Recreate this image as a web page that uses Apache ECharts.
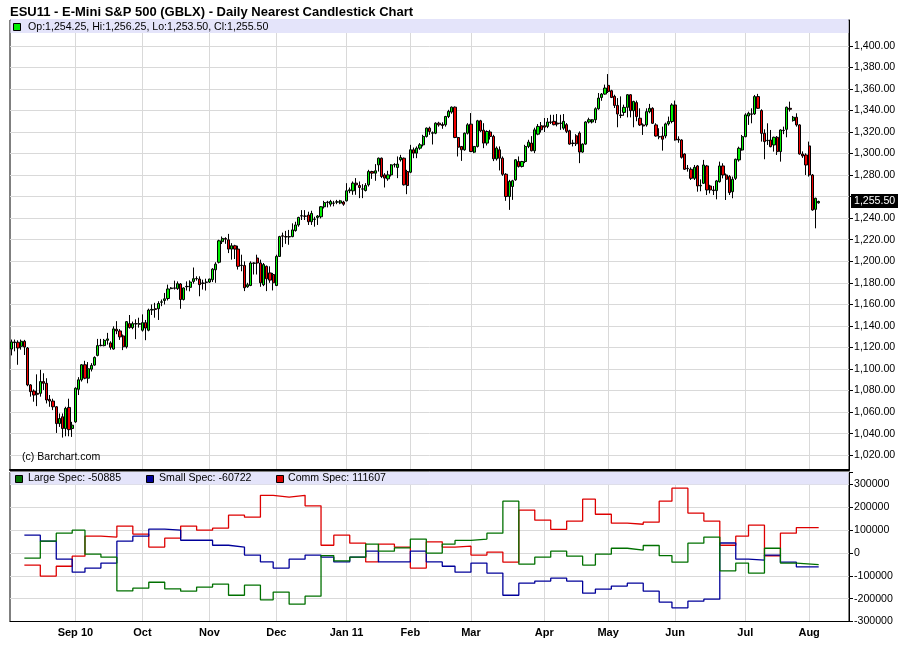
<!DOCTYPE html>
<html><head><meta charset="utf-8">
<script src="https://cdn.jsdelivr.net/npm/echarts@6/dist/echarts.min.js"></script>
<style>html,body{margin:0;padding:0;background:#fff}#c{width:900px;height:662px}</style>
</head><body><div id="c"></div>
<script>
// ---------- data ----------
const firstTradingDate = '2010-08-04';
const holidays = ['2010-09-06','2010-11-25','2010-12-24','2011-01-17','2011-02-21','2011-04-22','2011-05-30','2011-07-04'];
const slotCount = 263; // trading-day slots on the axis (254 candles + empty room)
const monthTickDates = ['2010-09-01','2010-10-01','2010-11-01','2010-12-01','2011-01-03','2011-02-01','2011-03-01','2011-04-01','2011-05-02','2011-06-01','2011-07-01','2011-08-01'];
const monthTickLabels = ['Sep 10','Oct','Nov','Dec','Jan 11','Feb','Mar','Apr','May','Jun','Jul','Aug'];
const priceTicks = [1020,1040,1060,1080,1100,1120,1140,1160,1180,1200,1220,1240,1260,1280,1300,1320,1340,1360,1380,1400];

// daily candles: [open, close, low, high]
const candles = [
// Aug 2010
[1118.5,1125.1,1112.6,1127.3],[1125.1,1124.5,1116.4,1127.3],[1124.8,1119.5,1103.9,1126.6],[1121.0,1125.7,1117.9,1127.3],[1125.7,1120.4,1113.0,1127.0],
[1119.5,1085.2,1084.0,1120.4],[1085.2,1078.9,1074.3,1086.0],[1079.5,1075.8,1069.6,1081.0],[1077.4,1076.5,1065.5,1095.0],[1077.4,1088.3,1074.3,1099.2],
[1088.3,1086.7,1080.5,1096.0],[1086.7,1071.2,1068.0,1091.4],[1071.8,1070.2,1064.9,1075.8],[1070.2,1064.9,1061.8,1072.4],[1064.9,1049.3,1040.6,1065.5],
[1049.3,1054.0,1046.2,1058.7],[1055.6,1044.7,1036.3,1058.7],[1044.7,1063.4,1037.5,1064.9],[1064.3,1043.7,1037.5,1072.4],[1044.7,1047.8,1036.9,1050.9],
// Sep 2010
[1050.9,1082.1,1050.0,1083.0],[1081.1,1089.9,1075.8,1092.4],[1089.9,1103.9,1088.3,1104.5],[1103.9,1091.4,1090.5,1107.6],[1091.4,1100.2,1086.7,1106.4],
[1099.8,1103.3,1097.7,1105.4],[1103.6,1110.7,1103.0,1111.7],[1112.6,1121.7,1111.7,1127.9],[1121.7,1122.0,1121.0,1127.9],[1121.7,1126.6,1121.0,1127.9],
[1126.6,1127.9,1122.6,1133.5],[1124.2,1120.1,1117.9,1125.7],[1118.5,1137.2,1117.9,1139.6],[1136.9,1135.3,1132.3,1144.4],[1135.3,1129.8,1127.0,1137.0],
[1130.7,1120.6,1117.5,1132.0],[1120.6,1143.9,1119.0,1144.5],[1142.1,1138.4,1137.5,1150.1],[1138.4,1142.1,1136.9,1144.0],[1142.1,1141.8,1127.7,1146.1],
[1141.5,1142.1,1138.4,1147.6],
// Oct 2010
[1136.0,1143.0,1134.7,1150.7],[1143.0,1138.0,1126.7,1145.5],[1136.0,1154.7,1135.0,1156.0],[1154.7,1155.3,1150.1,1159.9],[1155.9,1155.3,1147.6,1161.4],
[1155.9,1160.8,1145.5,1162.9],[1162.0,1162.3,1158.3,1164.5],[1163.6,1165.1,1159.9,1170.6],[1165.4,1174.3,1163.6,1178.3],[1174.6,1175.2,1174.0,1176.0],
[1175.2,1175.0,1173.7,1182.0],[1174.6,1179.2,1173.4,1181.3],[1178.9,1164.5,1155.9,1179.8],[1164.5,1175.2,1163.6,1175.8],[1176.7,1176.4,1172.8,1181.3],
[1175.8,1180.7,1172.1,1182.3],[1181.3,1183.8,1179.2,1194.2],[1184.0,1183.8,1182.0,1186.0],[1183.5,1178.3,1167.5,1186.0],[1179.8,1179.5,1173.7,1182.9],
[1180.4,1180.7,1172.8,1183.8],
// Nov 2010
[1180.7,1183.5,1179.8,1183.8],[1182.9,1192.7,1180.7,1193.6],[1192.1,1197.3,1180.0,1199.1],[1199.1,1219.0,1198.0,1220.0],[1218.2,1221.2,1216.0,1223.0],
[1221.1,1220.5,1216.2,1222.3],[1219.9,1211.3,1207.6,1225.4],[1211.3,1214.4,1201.5,1216.8],[1214.4,1211.3,1202.1,1215.3],[1211.3,1195.3,1192.3,1214.4],
[1196.0,1196.3,1190.7,1206.1],[1196.0,1175.4,1172.3,1199.9],[1176.3,1178.2,1175.4,1180.0],[1177.5,1198.4,1176.9,1199.9],[1198.4,1198.1,1187.7,1199.0],
[1203.0,1198.4,1187.7,1206.1],[1198.4,1180.0,1176.3,1201.5],[1178.2,1196.9,1176.9,1198.4],[1195.3,1183.7,1172.3,1196.0],[1189.2,1182.5,1180.0,1195.3],
[1187.7,1180.0,1172.9,1189.2],
// Dec 2010
[1177.5,1204.5,1176.9,1206.1],[1204.5,1222.9,1204.0,1223.6],[1223.6,1223.3,1213.1,1226.6],[1222.9,1222.6,1216.2,1228.2],[1222.6,1222.9,1215.3,1229.1],
[1222.9,1229.1,1222.3,1235.2],[1228.5,1233.7,1227.5,1236.7],[1233.7,1240.7,1232.1,1241.3],[1242.0,1242.3,1238.3,1247.5],[1242.0,1241.8,1238.3,1247.5],
[1242.9,1236.7,1233.7,1246.0],[1236.7,1244.4,1233.7,1246.9],[1238.9,1239.2,1232.1,1241.3],[1240.7,1242.0,1233.7,1242.9],[1241.3,1250.6,1239.8,1251.2],
[1250.6,1254.5,1249.0,1256.1],[1254.9,1254.6,1250.0,1256.1],[1253.0,1255.5,1250.8,1257.0],[1254.0,1253.9,1251.0,1256.1],[1254.9,1255.2,1253.0,1257.0],
[1254.0,1256.1,1253.0,1257.0],[1255.0,1253.0,1251.5,1256.1],
// Jan 2011
[1256.1,1265.4,1255.5,1272.5],[1265.4,1266.3,1263.2,1268.5],[1265.4,1272.5,1261.7,1274.1],[1272.5,1271.0,1261.7,1277.2],[1270.3,1268.5,1258.6,1274.1],
[1267.2,1267.0,1258.6,1271.6],[1265.7,1270.3,1264.8,1272.5],[1271.0,1283.3,1269.4,1284.9],[1283.3,1281.8,1276.5,1284.0],[1281.8,1284.0,1274.7,1290.2],
[1289.5,1295.7,1283.3,1296.3],[1295.7,1278.7,1277.2,1296.3],[1280.2,1277.2,1268.5,1281.8],[1276.5,1280.2,1274.7,1284.0],[1280.2,1289.5,1278.7,1290.2],
[1289.5,1289.8,1287.1,1291.1],[1287.1,1290.2,1277.2,1297.3],[1294.2,1296.3,1292.6,1298.8],[1295.7,1271.0,1270.3,1296.3],[1283.3,1270.3,1262.3,1284.9],
// Feb 2011
[1282.7,1303.5,1281.8,1308.1],[1303.5,1300.4,1295.7,1305.6],[1300.4,1305.0,1295.7,1306.6],[1305.0,1308.1,1303.5,1309.7],[1308.1,1315.9,1306.6,1317.4],
[1315.9,1323.6,1314.9,1324.2],[1323.6,1320.5,1317.4,1325.0],[1318.9,1319.3,1308.4,1320.5],[1318.9,1328.2,1318.0,1329.0],[1328.2,1326.7,1325.0,1329.5],
[1327.0,1326.0,1323.0,1329.0],[1326.7,1334.4,1325.0,1335.0],[1334.4,1339.1,1332.9,1340.6],[1338.5,1343.1,1337.0,1343.7],[1343.1,1314.9,1314.3,1343.7],
[1314.9,1305.9,1297.3,1315.5],[1306.6,1303.5,1293.2,1307.0],[1303.5,1318.9,1302.6,1319.5],[1318.9,1326.7,1317.7,1328.2],
// Mar 2011
[1327.3,1301.9,1301.3,1337.6],[1301.3,1306.6,1300.4,1307.0],[1306.6,1330.4,1305.6,1331.3],[1330.4,1321.1,1319.9,1331.3],[1321.7,1309.7,1305.0,1328.2],
[1309.7,1320.5,1307.5,1321.5],[1320.0,1315.9,1313.0,1322.0],[1315.9,1295.1,1293.0,1317.4],[1295.1,1305.0,1293.5,1306.6],[1303.5,1295.7,1284.3,1306.6],
[1295.7,1280.8,1279.3,1297.3],[1280.8,1260.1,1256.1,1281.8],[1260.1,1274.1,1247.7,1275.6],[1269.4,1274.7,1257.0,1275.6],[1275.6,1294.2,1274.7,1294.8],
[1292.6,1288.0,1287.0,1297.3],[1288.0,1292.6,1287.1,1293.2],[1292.6,1306.6,1291.1,1308.1],[1306.6,1310.6,1305.0,1312.8],[1309.7,1302.6,1302.0,1316.2],
[1302.6,1322.0,1300.4,1324.0],[1318.0,1325.2,1317.0,1327.4],[1325.8,1322.1,1319.5,1329.3],
// Apr 2011
[1325.8,1324.5,1320.0,1333.0],[1325.2,1329.3,1323.6,1333.0],[1329.3,1329.0,1327.4,1336.0],[1329.9,1326.8,1326.2,1336.0],[1328.3,1327.4,1325.2,1336.7],
[1328.3,1328.0,1322.0,1336.0],[1323.6,1329.9,1322.0,1336.7],[1326.8,1320.6,1319.0,1328.3],[1321.2,1308.8,1308.2,1322.1],[1309.7,1309.4,1306.6,1312.8],
[1316.5,1309.1,1307.0,1318.0],[1319.0,1301.4,1291.1,1320.6],[1301.4,1308.8,1300.7,1309.4],[1308.8,1329.3,1308.2,1330.0],[1329.3,1331.4,1328.0,1333.3],
[1329.3,1331.4,1328.0,1332.0],[1331.4,1341.6,1328.3,1342.9],[1341.6,1351.5,1340.7,1356.2],[1352.1,1355.2,1349.0,1356.2],[1355.2,1360.8,1354.6,1364.0],
// May 2011
[1363.3,1357.7,1356.2,1373.8],[1358.3,1352.1,1351.5,1359.2],[1353.1,1344.7,1342.3,1354.6],[1344.7,1336.7,1324.4,1351.5],[1335.7,1335.4,1332.9,1353.1],
[1338.2,1342.9,1335.1,1345.4],[1342.9,1354.6,1333.6,1355.2],[1354.6,1339.8,1333.6,1355.2],[1339.8,1348.4,1324.4,1349.0],[1347.3,1334.3,1330.0,1349.2],
[1332.8,1326.6,1325.6,1342.0],[1326.6,1325.6,1317.3,1328.0],[1326.6,1338.9,1325.0,1342.0],[1338.9,1342.0,1337.4,1346.1],[1342.0,1328.1,1327.5,1343.0],
[1326.6,1316.3,1315.7,1328.1],[1315.7,1315.4,1313.3,1323.5],[1316.3,1313.3,1302.7,1325.0],[1316.3,1327.5,1314.2,1328.7],[1327.5,1329.7,1326.0,1334.3],
[1329.7,1345.1,1328.1,1346.7],
// Jun 2011
[1345.1,1312.6,1312.0,1349.2],[1313.3,1312.6,1310.0,1316.0],[1312.6,1296.5,1295.3,1313.3],[1299.6,1285.4,1284.8,1300.2],[1286.3,1286.0,1283.2,1289.4],
[1285.4,1277.0,1275.5,1287.2],[1277.0,1287.2,1275.5,1289.4],[1288.5,1269.9,1264.6,1289.4],[1270.0,1270.5,1265.0,1276.0],[1272.4,1289.4,1271.8,1294.1],
[1288.5,1266.2,1261.5,1289.4],[1269.9,1266.2,1263.0,1271.0],[1266.2,1265.6,1261.5,1269.9],[1265.6,1274.6,1257.5,1275.5],[1273.9,1288.5,1273.0,1292.5],
[1288.5,1280.1,1277.0,1291.0],[1280.1,1276.1,1256.9,1281.5],[1278.6,1263.7,1261.5,1280.0],[1264.6,1276.1,1258.5,1278.6],[1277.0,1294.7,1275.5,1295.3],
[1294.1,1304.9,1292.5,1306.4],[1303.3,1315.7,1302.7,1317.3],
// Jul 2011
[1315.7,1335.9,1315.1,1337.4],[1334.9,1337.4,1326.6,1338.9],[1336.8,1336.5,1328.1,1342.0],[1336.8,1352.9,1335.9,1354.4],[1352.9,1342.0,1341.4,1355.4],
[1339.9,1318.8,1311.1,1341.1],[1318.8,1311.1,1294.7,1322.5],[1312.0,1312.3,1308.0,1328.1],[1312.6,1306.4,1305.8,1321.9],[1308.0,1315.1,1301.8,1315.7],
[1315.1,1301.8,1298.7,1316.3],[1301.8,1321.9,1292.5,1322.5],[1321.3,1321.6,1318.0,1325.0],[1322.5,1343.0,1315.1,1343.6],[1342.0,1341.1,1339.0,1348.2],
[1330.6,1333.7,1329.7,1334.9],[1333.7,1326.6,1325.0,1337.4],[1326.6,1299.6,1299.0,1327.2],[1299.6,1297.8,1296.0,1302.0],[1298.7,1289.4,1280.1,1300.2],
// Aug 2011
[1307.1,1280.1,1278.6,1311.1],[1280.1,1247.6,1247.0,1281.0],[1248.2,1258.5,1230.6,1259.0],[1254.25,1255.50,1253.50,1256.25]
];
const lastQuote = {open:1254.25, high:1256.25, low:1253.50, close:1255.50};

// weekly commitments of traders
const cotDates = ['2010-08-10','2010-08-17','2010-08-24','2010-08-31','2010-09-07','2010-09-14','2010-09-21','2010-09-28','2010-10-05','2010-10-12','2010-10-19','2010-10-26','2010-11-02','2010-11-09','2010-11-16','2010-11-23','2010-11-30','2010-12-07','2010-12-14','2010-12-21','2010-12-28','2011-01-04','2011-01-11','2011-01-18','2011-01-25','2011-02-01','2011-02-08','2011-02-15','2011-02-22','2011-03-01','2011-03-08','2011-03-15','2011-03-22','2011-03-29','2011-04-05','2011-04-12','2011-04-19','2011-04-26','2011-05-03','2011-05-10','2011-05-17','2011-05-24','2011-05-31','2011-06-07','2011-06-14','2011-06-21','2011-06-28','2011-07-05','2011-07-12','2011-07-19','2011-07-26','2011-08-04'];
const largeSpec = [-22500,52000,87000,100000,-5000,-18000,-166000,-154000,-128000,-157000,-167000,-149000,-136000,-185000,-141000,-205000,-171000,-224000,-189000,-11000,-34000,-18000,39000,8000,23000,61000,0,39000,55000,61000,87000,227000,-49000,-18000,8000,-14000,-53000,-5000,21000,13000,33000,-11000,-40000,43000,70000,-78000,-44000,-88000,21000,-44000,-50885,-50885];
const smallSpec = [78000,52000,-27000,-84000,-66000,-44000,52000,74000,105000,100000,56000,56000,34000,26000,-9000,-39000,-66000,-27000,-9000,-18000,-39000,-18000,8000,-39000,-39000,8000,-39000,-58000,-84000,-44000,-88000,-185000,-132000,-123000,-110000,-123000,-176000,-158000,-145000,-132000,-167000,-215000,-240000,-211000,-202000,44000,-27000,-31000,-9000,-40000,-60722,-60722];
const commSpec = [-53000,-101000,-58000,-14000,74000,70000,118000,83000,26000,65000,118000,100000,109000,166000,157000,253000,245000,253000,207000,34000,78000,43000,-39000,39000,26000,-66000,49000,26000,30000,-9000,4000,-40000,188000,144000,104000,140000,236000,170000,131000,126000,135000,227000,284000,175000,140000,34000,74000,122000,-12000,87000,111607,111607];
const cotLast = {large:-50885, small:-60722, comm:111607};

// ---------- helpers ----------
function tradingDays(start, n, hol) {
  const out = []; const d = new Date(start + 'T00:00:00Z');
  while (out.length < n) {
    const s = d.toISOString().slice(0, 10); const wd = d.getUTCDay();
    if (wd !== 0 && wd !== 6 && hol.indexOf(s) < 0) out.push(s);
    d.setUTCDate(d.getUTCDate() + 1);
  }
  return out;
}
function fmt2(v) {
  const s = Number(v).toFixed(2).split('.');
  return s[0].replace(/\B(?=(\d{3})+(?!\d))/g, ',') + '.' + s[1];
}
const categories = tradingDays(firstTradingDate, slotCount, holidays);
const tickSet = {}; const labelOf = {};
monthTickDates.forEach((d, i) => { tickSet[d] = true; labelOf[d] = monthTickLabels[i]; });
const isMonthTick = (idx, val) => !!tickSet[val];

const FONT = 'Liberation Sans';
const GRIDC = '#d9d9d9';
const UP = '#00f000', DOWN = '#f00000';
const CGREEN = '#007000', CBLUE = '#000099', CRED = '#dd0000';

const chart = echarts.init(document.getElementById('c'), null, {renderer: 'canvas'});
const option = {
  animation: false,
  backgroundColor: '#fff',
  title: {text: 'ESU11 - E-Mini S&P 500 (GBLX) - Daily Nearest Candlestick Chart', left: 10, top: 5, padding: 0,
    textStyle: {fontFamily: FONT, fontWeight: 'bold', fontSize: 13, color: '#000', lineHeight: 14}},
  grid: [
    {left: 10, right: 51, top: 20, height: 450, show: true, borderColor: '#000', borderWidth: 1, backgroundColor: '#fff'},
    {left: 10, right: 51, top: 472, height: 149.5, show: true, borderColor: '#000', borderWidth: 1, backgroundColor: '#fff'}
  ],
  xAxis: [
    {type: 'category', gridIndex: 0, data: categories, boundaryGap: true,
      axisLine: {show: true, onZero: false, lineStyle: {color: '#000', width: 2}}, axisTick: {show: false}, axisLabel: {show: false},
      splitLine: {show: true, interval: isMonthTick, alignWithLabel: true, lineStyle: {color: GRIDC, width: 1}}},
    {type: 'category', gridIndex: 1, data: categories, boundaryGap: true,
      axisLine: {show: true, onZero: false, lineStyle: {color: '#000', width: 1}}, axisTick: {show: false},
      axisLabel: {interval: isMonthTick, formatter: v => labelOf[v] || '', fontFamily: FONT, fontWeight: 'bold', fontSize: 11, color: '#000', margin: 6},
      splitLine: {show: true, interval: isMonthTick, alignWithLabel: true, lineStyle: {color: GRIDC, width: 1}}}
  ],
  yAxis: [
    {type: 'value', gridIndex: 0, position: 'right', min: 1006.2, max: 1424, scale: true,
      axisLine: {show: true, lineStyle: {color: '#000'}},
      axisTick: {show: true, length: 4, customValues: priceTicks, lineStyle: {color: '#000'}},
      axisLabel: {customValues: priceTicks, formatter: v => (Math.abs(v - lastQuote.close) < 8 ? '' : fmt2(v)), margin: 5, fontFamily: FONT, fontSize: 10.6, color: '#000'},
      splitLine: {show: true, lineStyle: {color: GRIDC, width: 1}}},
    {type: 'value', gridIndex: 1, position: 'right', min: -300000, max: 355000, interval: 100000,
      axisLine: {show: true, lineStyle: {color: '#000'}},
      axisTick: {show: true, length: 4, lineStyle: {color: '#000'}},
      axisLabel: {formatter: v => (v > 300000 ? '' : String(v)), margin: 5, fontFamily: FONT, fontSize: 10.6, color: '#000', showMaxLabel: true},
      splitLine: {show: true, lineStyle: {color: GRIDC, width: 1}}}
  ],
  series: [
    {type: 'candlestick', name: 'ESU11', xAxisIndex: 0, yAxisIndex: 0, data: candles, barWidth: 2.7, clip: true,
      itemStyle: {color: UP, color0: DOWN, borderColor: '#000', borderColor0: '#000', borderColorDoji: '#000', borderWidth: 1}},
    {type: 'line', name: 'Comm Spec', xAxisIndex: 1, yAxisIndex: 1, step: 'end', showSymbol: false,
      data: cotDates.map((d, i) => [d, commSpec[i]]), lineStyle: {color: CRED, width: 1.3}, itemStyle: {color: CRED}},
    {type: 'line', name: 'Small Spec', xAxisIndex: 1, yAxisIndex: 1, step: 'end', showSymbol: false,
      data: cotDates.map((d, i) => [d, smallSpec[i]]), lineStyle: {color: CBLUE, width: 1.3}, itemStyle: {color: CBLUE}},
    {type: 'line', name: 'Large Spec', xAxisIndex: 1, yAxisIndex: 1, step: 'end', showSymbol: false,
      data: cotDates.map((d, i) => [d, largeSpec[i]]), lineStyle: {color: CGREEN, width: 1.3}, itemStyle: {color: CGREEN}}
  ]
};
chart.setOption(option);

// overlay: legend bars, copyright, last-price marker
const lastY = chart.convertToPixel({yAxisIndex: 0}, lastQuote.close);
const txt = (x, y, s, fill) => ({type: 'text', x: x, y: y, z: 20,
  style: {text: s, fill: fill || '#000', fontFamily: FONT, fontSize: 10.6, verticalAlign: 'middle', align: 'left'}});
const sq = (x, y, c) => ({type: 'rect', z: 20, shape: {x: x, y: y, width: 7, height: 7}, style: {fill: c, stroke: '#000', lineWidth: 1}});
chart.setOption({graphic: [
  {type: 'rect', z: 15, shape: {x: 10.5, y: 19, width: 838, height: 14}, style: {fill: '#e4e4fa'}},
  sq(13.5, 23.5, UP),
  txt(28, 27.5, 'Op:' + fmt2(lastQuote.open) + ', Hi:' + fmt2(lastQuote.high) + ', Lo:' + fmt2(lastQuote.low) + ', Cl:' + fmt2(lastQuote.close)),
  {type: 'rect', z: 15, shape: {x: 10.5, y: 472, width: 838, height: 12.5}, style: {fill: '#e4e4fa'}},
  sq(15.5, 475.5, CGREEN), txt(28, 478.5, 'Large Spec: ' + cotLast.large),
  sq(146.5, 475.5, CBLUE), txt(159, 478.5, 'Small Spec: ' + cotLast.small),
  sq(276.5, 475.5, CRED), txt(288, 478.5, 'Comm Spec: ' + cotLast.comm),
  txt(22, 457.5, '(c) Barchart.com'),
  {type: 'rect', z: 20, shape: {x: 851, y: Math.round(lastY) - 7, width: 47, height: 14}, style: {fill: '#000'}},
  txt(854, Math.round(lastY) + 0.5, fmt2(lastQuote.close), '#fff')
]});
</script>
</body></html>
